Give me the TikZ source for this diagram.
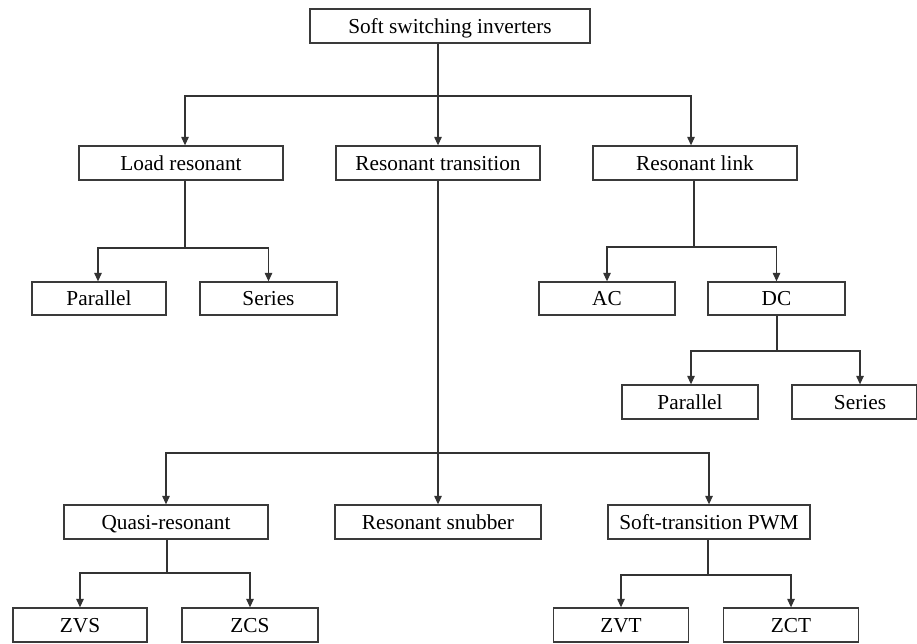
\documentclass[tikz,border=0pt]{standalone}
\usepackage{fontspec}
\setmainfont{Liberation Serif}
\usetikzlibrary{arrows.meta}
\definecolor{boxline}{HTML}{3A3A3A}
\definecolor{wire}{HTML}{333333}
\begin{document}
\begin{tikzpicture}[x=1pt,y=-1pt,
  every node/.style={font=\fontsize{21.3}{25}\selectfont},
  cat/.style={draw=boxline, line width=1.3pt, fill=white, minimum height=34pt,
              inner sep=0pt, text height=15pt, text depth=1pt, anchor=center},
  link/.style={draw=wire, line width=1.2pt},
  arr/.style={link, -{Triangle[length=8.5pt,width=7.5pt]}}]
\useasboundingbox (0,0) rectangle (917,643);
\begin{scope}
\clip (0,0) rectangle (917,643);

% category boxes
\node[cat, minimum width=280pt] (root) at (450,26)  {Soft switching inverters};
\node[cat, minimum width=204pt] (lr)   at (181,163) {Load resonant};
\node[cat, minimum width=204pt] (rt)   at (438,163) {Resonant transition};
\node[cat, minimum width=204pt] (rl)   at (695,163) {Resonant link};

\node[cat, minimum width=134pt, minimum height=33pt] (p1) at (99,298.5)  {Parallel};
\node[cat, minimum width=137pt, minimum height=33pt] (s1) at (268.5,298.5) {Series};
\node[cat, minimum width=136pt, minimum height=33pt] (ac) at (607,298.5) {AC};
\node[cat, minimum width=137pt, minimum height=33pt] (dc) at (776.5,298.5) {DC};

\node[cat, minimum width=136pt] (p2) at (690,402) {Parallel};
\node[cat, minimum width=136pt] (s2) at (860,402) {Series};

\node[cat, minimum width=204pt] (qr) at (166,522) {Quasi-resonant};
\node[cat, minimum width=206pt] (rs) at (438,522) {Resonant snubber};
\node[cat, minimum width=202pt] (st) at (709,522) {Soft-transition PWM};

\node[cat, minimum width=134pt] (zvs) at (80,625)  {ZVS};
\node[cat, minimum width=136pt] (zcs) at (250,625) {ZCS};
\node[cat, minimum width=135pt] (zvt) at (621,625) {ZVT};
\node[cat, minimum width=135pt] (zct) at (791,625) {ZCT};

% junction points of the tree
\coordinate (busA) at (438,96);
\coordinate (lrj)  at (185,248);
\coordinate (rlj)  at (694,247);
\coordinate (dcj)  at (777,351);
\coordinate (busB) at (438,453);
\coordinate (qrj)  at (167,573);
\coordinate (stj)  at (708,575);

% first level
\draw[link] (root.south -| busA) -- (busA);
\draw[arr] (busA) -- (rt.north);
\draw[arr] (busA) -| ([xshift=4pt]lr.north);
\draw[arr] (busA) -| ([xshift=-4pt]rl.north);

% load resonant
\draw[link] (lr.south -| lrj) -- (lrj);
\draw[arr] (lrj) -| ([xshift=-1pt]p1.north);
\draw[arr] (lrj) -| (s1.north);

% resonant link
\draw[link] (rl.south -| rlj) -- (rlj);
\draw[arr] (rlj) -| (ac.north);
\draw[arr] (rlj) -| (dc.north);

% DC link
\draw[link] (dc.south -| dcj) -- (dcj);
\draw[arr] (dcj) -| ([xshift=1pt]p2.north);
\draw[arr] (dcj) -| (s2.north);

% resonant transition
\draw[link] (rt.south) -- (busB);
\draw[arr] (busB) -- (rs.north);
\draw[arr] (busB) -| (qr.north);
\draw[arr] (busB) -| (st.north);

% quasi-resonant
\draw[link] (qr.south -| qrj) -- (qrj);
\draw[arr] (qrj) -| (zvs.north);
\draw[arr] (qrj) -| (zcs.north);

% soft-transition PWM
\draw[link] (st.south -| stj) -- (stj);
\draw[arr] (stj) -| (zvt.north);
\draw[arr] (stj) -| (zct.north);
\end{scope}
% right edge of the last box in the DC branch
\draw[boxline, line width=1.3pt] (916.35,385) -- (916.35,419);
\end{tikzpicture}
\end{document}
